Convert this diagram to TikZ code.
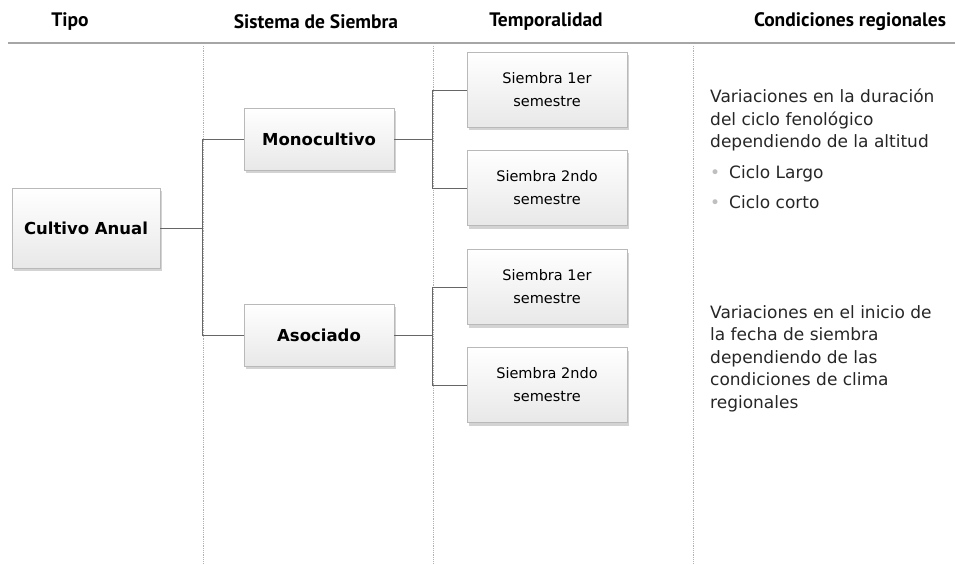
\documentclass[tikz,border=0pt]{standalone}
\usepackage{fontspec}
\setmainfont{DejaVu Sans}
\newfontfamily\headfont{PT Sans}
\usetikzlibrary{shadows}
\tikzset{
  stepbox/.style={draw=gray!55, top color=white, bottom color=gray!18,
    drop shadow={shadow xshift=2pt, shadow yshift=-3pt, opacity=0.35},
    align=center, font=\fontsize{14.5}{23}\selectfont},
  boldbox/.style={stepbox, font=\bfseries\fontsize{16.5}{20}\selectfont},
  head/.style={font=\headfont\bfseries\fontsize{19.5}{22}\selectfont},
  link/.style={draw=gray!80!black, line width=0.8pt},
  sep/.style={draw=gray!60, densely dotted, line width=0.8pt},
  note/.style={anchor=north west, align=left, inner sep=0pt,
    font=\fontsize{17}{22.5}\selectfont, text=black!85}
}
\begin{document}
\begin{tikzpicture}[x=1pt,y=-1pt]
\useasboundingbox (0,0) rectangle (955,564);
% headers
\node[head] (h1) at (70,22) {Tipo};
\node[head] (h2) at (316,22) {Sistema de Siembra};
\node[head] (h3) at (546,22) {Temporalidad};
\node[head] (h4) at (850,22) {Condiciones regionales};
\draw[gray!70, line width=1.6pt] (8,43) -- (955,43);
\draw[sep] (203,46) -- (203,564);
\draw[sep] (433,46) -- (433,564);
\draw[sep] (693,46) -- (693,564);
% boxes
\node[boldbox, minimum width=148pt, minimum height=80pt] (anual) at (86,228) {Cultivo Anual};
\node[boldbox, minimum width=150pt, minimum height=62pt] (mono) at (319,139) {Monocultivo};
\node[boldbox, minimum width=150pt, minimum height=62pt] (asoc) at (319,335) {Asociado};
\node[stepbox, minimum width=160pt, minimum height=75pt] (t1) at (547,90) {Siembra 1er\\semestre};
\node[stepbox, minimum width=160pt, minimum height=75pt] (t2) at (547,188) {Siembra 2ndo\\semestre};
\node[stepbox, minimum width=160pt, minimum height=75pt] (t3) at (547,287) {Siembra 1er\\semestre};
\node[stepbox, minimum width=160pt, minimum height=75pt] (t4) at (547,385) {Siembra 2ndo\\semestre};
% connectors
\draw[link] (mono.west) -- ++(-41,0) |- (anual.east);
\draw[link] (asoc.west) -- ++(-41,0) |- (anual.east);
\draw[link] (t1.west) -- ++(-34,0) |- (mono.east);
\draw[link] (t2.west) -- ++(-34,0) |- (mono.east);
\draw[link] (t3.west) -- ++(-34,0) |- (asoc.east);
\draw[link] (t4.west) -- ++(-34,0) |- (asoc.east);
% regional notes
\node[note] (n1) at (710,89) {Variaciones en la duración\\del ciclo fenológico\\dependiendo de la altitud\\[8pt]
  {\color{gray!50}\textbullet}\hspace{9pt}Ciclo Largo\\[8pt]
  {\color{gray!50}\textbullet}\hspace{9pt}Ciclo corto};
\node[note] (n2) at (710,305) {Variaciones en el inicio de\\la fecha de siembra\\dependiendo de las\\condiciones de clima\\regionales};
\end{tikzpicture}
\end{document}
